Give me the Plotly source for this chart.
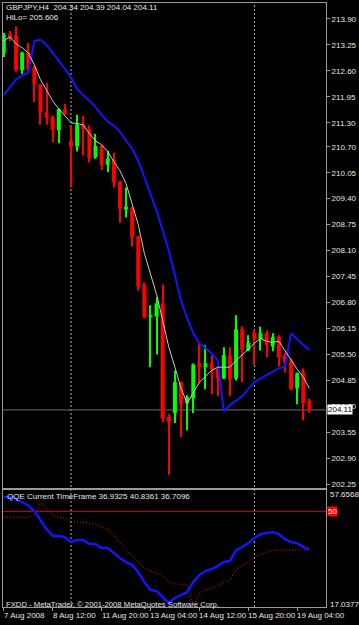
import plotly.graph_objects as go

# ---------------- data ----------------
symbol = "GBPJPY,H4"
bar_index = list(range(51))
opens = [213.05, 213.52, 213.48, 212.62, 213.06, 212.68, 212.25, 211.56, 211.45, 211.12,
         211.64, 210.83, 210.71, 211.25, 211.13, 210.43, 210.73, 210.25, 210.38, 209.83,
         209.13, 209.18, 208.45, 207.23, 206.43, 206.45, 206.78, 203.93, 204.03, 204.80,
         204.28, 204.40, 205.28, 205.18, 205.28, 205.15, 204.90, 205.48, 204.90, 206.13,
         205.60, 206.05, 205.88, 206.03, 205.70, 205.95, 205.48, 205.35, 204.65, 205.05,
         204.34]
highs = [213.55, 213.60, 213.72, 213.08, 213.30, 212.72, 212.28, 212.29, 211.48, 211.66,
         211.78, 211.22, 211.50, 211.47, 211.23, 211.02, 210.75, 210.60, 210.55, 209.85,
         209.68, 209.20, 208.47, 207.30, 206.73, 206.93, 207.25, 204.00, 205.10, 204.82,
         204.48, 205.27, 205.78, 205.73, 205.48, 205.18, 205.68, 205.68, 206.48, 206.20,
         205.98, 206.10, 206.20, 206.10, 206.03, 205.98, 205.55, 205.40, 205.05, 205.15,
         204.39]
lows = [212.95, 213.35, 212.58, 212.52, 212.60, 211.82, 211.25, 211.25, 210.81, 210.79,
        211.50, 209.68, 210.58, 210.48, 210.31, 210.40, 210.12, 210.06, 209.68, 208.80,
        208.93, 208.20, 207.10, 206.40, 205.18, 205.50, 203.80, 202.48, 203.78, 203.43,
        203.60, 204.03, 204.78, 204.63, 204.50, 204.45, 204.88, 204.45, 204.85, 204.80,
        205.58, 205.25, 205.60, 205.43, 205.58, 205.20, 205.05, 204.60, 204.25, 203.85,
        204.04]
closes = [213.50, 213.42, 212.62, 213.06, 212.65, 212.27, 211.56, 211.43, 211.12, 211.64,
          211.53, 210.70, 211.25, 211.14, 210.42, 210.72, 210.25, 210.40, 209.81, 209.15,
          209.20, 208.43, 207.20, 206.43, 206.48, 206.78, 203.90, 203.80, 204.80, 204.25,
          204.43, 205.25, 205.18, 205.28, 205.13, 204.90, 205.48, 204.88, 206.13, 205.63,
          205.80, 205.88, 206.03, 205.73, 205.93, 205.43, 205.30, 204.63, 205.03, 204.28,
          204.11]
hilo = [212.00, 212.20, 212.38, 212.48, 212.55, 213.35, 213.38, 213.25, 213.05, 212.88,
        212.65, 212.43, 212.15, 212.00, 211.85, 211.70, 211.50, 211.33, 211.23, 211.08,
        210.85, 210.65, 210.35, 209.93, 209.48, 209.10, 208.60, 208.10, 207.48, 206.85,
        206.40, 206.03, 205.78, 205.65, 205.53, 205.35, 204.08, 204.23, 204.35, 204.45,
        204.63, 204.80, 204.90, 204.98, 205.08, 205.15, 205.20, 206.03, 205.88, 205.73,
        205.606]
ma_line = [213.35, 213.45, 213.28, 213.18, 213.05, 212.75, 212.38, 212.10, 211.85, 211.65,
           211.48, 211.30, 211.28, 211.25, 211.03, 210.85, 210.75, 210.58, 210.33, 210.10,
           209.78, 209.28, 208.75, 208.03, 207.48, 207.00, 206.35, 205.68, 205.18, 204.65,
           204.28, 204.53, 204.80, 204.95, 205.10, 205.18, 205.18, 205.18, 205.35, 205.48,
           205.63, 205.78, 205.90, 205.83, 205.80, 205.83, 205.60, 205.35, 205.13, 204.93,
           204.65]
qqe_main = [54.90, 54.90, 54.21, 53.18, 52.15, 50.08, 46.99, 43.89, 41.48, 41.48,
            41.13, 39.41, 40.10, 40.10, 38.72, 38.72, 37.35, 37.35, 35.63, 33.90,
            32.53, 31.50, 29.09, 25.64, 22.89, 22.55, 20.48, 18.41, 20.14, 21.17,
            22.20, 25.64, 28.05, 29.43, 30.12, 31.15, 32.53, 32.87, 36.66, 37.69,
            39.07, 40.79, 42.17, 42.51, 42.85, 42.17, 40.45, 39.41, 39.07, 37.69,
            36.9325]
qqe_trail = [48.02, 48.02, 48.02, 48.02, 48.02, 48.71, 52.84, 51.12, 48.71, 48.02,
             47.67, 46.64, 46.30, 46.30, 45.95, 45.61, 44.58, 43.89, 41.82, 39.07,
             37.00, 34.59, 32.53, 30.46, 29.43, 28.74, 27.71, 25.64, 24.95, 24.95,
             24.61, 17.38, 21.86, 22.89, 23.58, 24.27, 25.64, 26.33, 30.12, 31.15,
             32.53, 34.25, 35.28, 35.97, 36.50, 36.71, 36.71, 36.71, 36.71, 36.71,
             36.7096]
qqe_header = [36.9325, 40.8361, 36.7096]
qqe_level = 50
qqe_max, qqe_min = 57.6568, 17.0377
price_ticks = [213.90, 213.25, 212.60, 211.95, 211.30, 210.70, 210.05, 209.40, 208.75,
               208.10, 207.45, 206.80, 206.15, 205.50, 204.85, 204.20, 203.55, 202.90, 202.25]
time_tick_bars = [0, 8, 16, 24, 32, 40, 48]
time_labels = ["7 Aug 2008", "8 Aug 12:00", "11 Aug 20:00", "13 Aug 04:00",
               "14 Aug 12:00", "15 Aug 20:00", "19 Aug 04:00"]
week_sep_bars = [11, 41]

# ---------------- geometry / style ----------------
W, H = 359, 625
ML, MR, MT, MB = 2, 32, 2, 18
PW, PH = W - ML - MR, H - MT - MB
SPLIT = 489


def fx(px):
    return (px - ML) / PW


def fy(py):
    return (H - MB - py) / PH


bar_px = 6.15
x0_px = 2.8
x_range = [(ML - x0_px) / bar_px, (W - MR - x0_px) / bar_px]
px_per_price = 40.0
ref_price, ref_px = 213.90, 18
price_range = [ref_price - (SPLIT - ref_px) / px_per_price,
               ref_price + (ref_px - MT) / px_per_price]

FONT = "Liberation Sans"
TXT = "#e8e8e8"
AX = "#9a9a9a"
UP, DN = "#00ff00", "#ff0000"
BLUE = "#1414ff"

fig = go.Figure()

up = [i for i in bar_index if closes[i] >= opens[i]]
dn = [i for i in bar_index if closes[i] < opens[i]]
for ids, col in ((up, UP), (dn, DN)):
    fig.add_trace(go.Bar(x=ids, base=[lows[i] for i in ids],
                         y=[highs[i] - lows[i] for i in ids], width=0.17,
                         marker=dict(color=col, line=dict(width=0)),
                         xaxis="x", yaxis="y", hoverinfo="skip"))
    fig.add_trace(go.Bar(x=ids, base=[min(opens[i], closes[i]) for i in ids],
                         y=[max(abs(closes[i] - opens[i]), 0.03) for i in ids], width=0.65,
                         marker=dict(color=col, line=dict(width=0)),
                         xaxis="x", yaxis="y", hoverinfo="skip"))

fig.add_trace(go.Scatter(x=bar_index, y=hilo, mode="lines",
                         line=dict(color=BLUE, width=2), xaxis="x", yaxis="y"))
fig.add_trace(go.Scatter(x=bar_index, y=ma_line, mode="lines",
                         line=dict(color="#c8c8c8", width=1), xaxis="x", yaxis="y"))

fig.add_trace(go.Scatter(x=bar_index, y=qqe_trail, mode="lines",
                         line=dict(color="#ff1010", width=1, dash="1px,2px"),
                         xaxis="x2", yaxis="y2"))
fig.add_trace(go.Scatter(x=bar_index, y=qqe_main, mode="lines",
                         line=dict(color=BLUE, width=2.5), xaxis="x2", yaxis="y2"))

shapes = []
for b in week_sep_bars:
    shapes.append(dict(type="line", xref="x", yref="paper", x0=b, x1=b, y0=0, y1=1,
                       line=dict(color="#b0b0b0", width=1, dash="2px,2px"), layer="below"))
shapes.append(dict(type="line", xref="paper", yref="y", x0=0, x1=1,
                   y0=closes[-1], y1=closes[-1],
                   line=dict(color="#6a7070", width=1), layer="below"))
shapes.append(dict(type="line", xref="paper", yref="y2", x0=0, x1=1,
                   y0=qqe_level, y1=qqe_level,
                   line=dict(color="#d00000", width=1), layer="below"))

f8 = dict(family=FONT, size=8, color=TXT)
f77 = dict(family=FONT, size=7.7, color=TXT)
ann = [
    dict(x=fx(4), y=fy(6.5), xref="paper", yref="paper", xanchor="left", yanchor="middle",
         text=f"{symbol}  {opens[-1]:.2f} {highs[-1]:.2f} {lows[-1]:.2f} {closes[-1]:.2f}",
         showarrow=False, font=f8, borderpad=0),
    dict(x=fx(4), y=fy(16.5), xref="paper", yref="paper", xanchor="left", yanchor="middle",
         text=f"HiLo= {hilo[-1]:.3f}", showarrow=False, font=f8, borderpad=0),
    dict(x=fx(4), y=fy(496.5), xref="paper", yref="paper", xanchor="left", yanchor="middle",
         text="QQE Current TimeFrame " + " ".join(f"{v:.4f}" for v in qqe_header),
         showarrow=False, font=f8),
    dict(x=fx(3), y=fy(604), xref="paper", yref="paper", xanchor="left", yanchor="middle",
         text="FXDD - MetaTrader, © 2001-2008 MetaQuotes Software Corp.",
         showarrow=False, font=f77),
    dict(x=1, y=closes[-1], xref="paper", yref="y", xanchor="left", yanchor="middle",
         text=f"{closes[-1]:.2f}", showarrow=False, xshift=1, bgcolor="#ffffff",
         borderpad=0, font=dict(family=FONT, size=8, color="#000000")),
    dict(x=1, y=qqe_level, xref="paper", yref="y2", xanchor="left", yanchor="middle",
         text=f"{qqe_level}", showarrow=False, xshift=1, bgcolor="#ff0000",
         borderpad=0, font=dict(family=FONT, size=8, color="#ffe0e0")),
    dict(x=1, y=fy(494), xref="paper", yref="paper", xanchor="left", yanchor="middle",
         text=f"{qqe_max:.4f}", showarrow=False, xshift=2, font=f8),
    dict(x=1, y=fy(604), xref="paper", yref="paper", xanchor="left", yanchor="middle",
         text=f"{qqe_min:.4f}", showarrow=False, xshift=2, font=f8),
]
for b, lab in zip(time_tick_bars, time_labels):
    ann.append(dict(x=b, y=0, xref="x2", yref="paper", xanchor="left", yanchor="top",
                    text=lab, showarrow=False, xshift=-2, yshift=-2, font=f8))

fig.update_layout(
    width=W, height=H, margin=dict(l=ML, r=MR, t=MT, b=MB),
    paper_bgcolor="#000000", plot_bgcolor="#000000", showlegend=False,
    barmode="overlay", shapes=shapes, annotations=ann,
    xaxis=dict(domain=[0, 1], range=x_range, anchor="y", showgrid=False, zeroline=False,
               showticklabels=False, ticks="", showline=True, mirror=True,
               linecolor=AX, linewidth=1),
    yaxis=dict(domain=[fy(SPLIT), 1], range=price_range, side="right", anchor="x",
               tickvals=price_ticks, ticktext=[f"{v:.2f}" for v in price_ticks],
               ticks="outside", ticklen=3, tickcolor=AX, tickfont=f8,
               showgrid=False, zeroline=False, showline=True, mirror=True,
               linecolor=AX, linewidth=1),
    xaxis2=dict(domain=[0, 1], range=x_range, anchor="y2", matches="x",
                tickvals=time_tick_bars, ticks="outside", ticklen=3, tickcolor=AX,
                showticklabels=False, showgrid=False, zeroline=False, showline=True,
                mirror=True, linecolor=AX, linewidth=1),
    yaxis2=dict(domain=[0, fy(SPLIT)], range=[qqe_min, qqe_max], side="right",
                anchor="x2", showticklabels=False, ticks="", showgrid=False,
                zeroline=False, showline=True, mirror=True, linecolor=AX, linewidth=1),
)

fig.write_html("out.html")
